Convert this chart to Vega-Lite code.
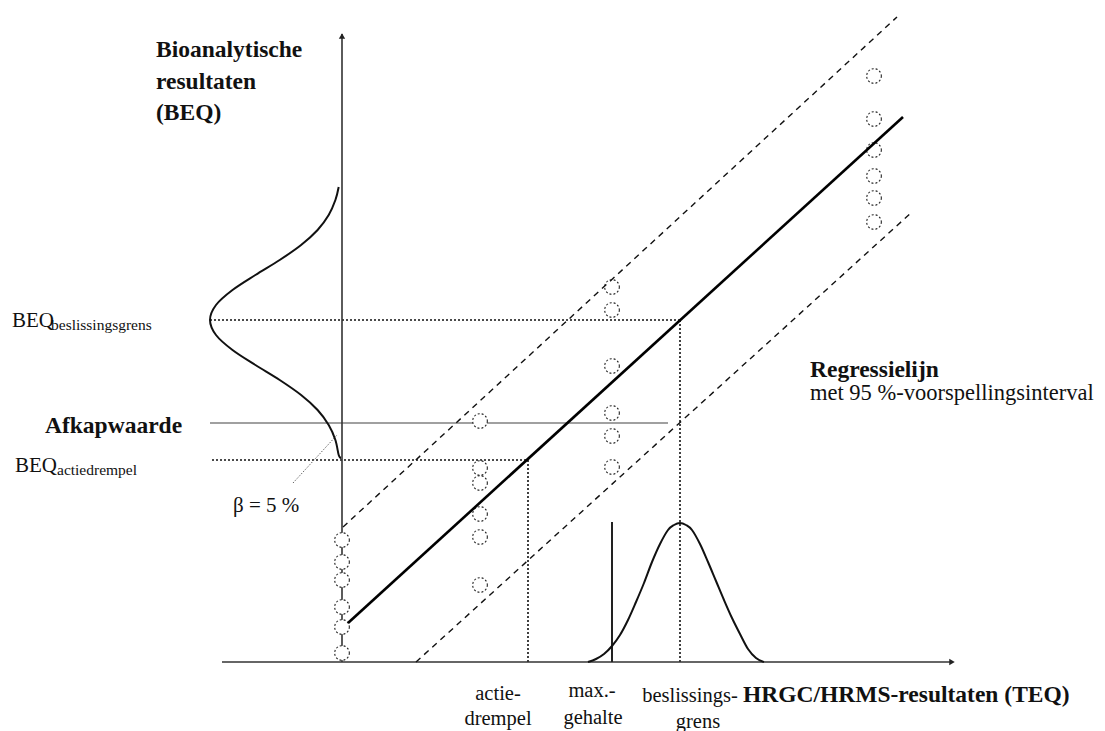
{
  "$schema": "https://vega.github.io/schema/vega-lite/v6.json",
  "width": 1105,
  "height": 731,
  "padding": 0,
  "autosize": {"type": "none"},
  "background": "white",
  "config": {"view": {"stroke": null}},
  "datasets": {
    "segments": [
      {"kind": "axis", "teq": -12, "beq": 0, "teq2": 61.1, "beq2": 0},
      {"kind": "axis", "teq": 0, "beq": 0, "teq2": 0, "beq2": 62.8},
      {"kind": "fit", "teq": 0.6, "beq": 3.9, "teq2": 56.1, "beq2": 54.5},
      {"kind": "pi", "teq": 0.1, "beq": 13.5, "teq2": 55.5, "beq2": 64.5},
      {"kind": "pi", "teq": 7.4, "beq": 0, "teq2": 57.0, "beq2": 45.0},
      {"kind": "dotted", "teq": -13.2, "beq": 34.2, "teq2": 33.8, "beq2": 34.2},
      {"kind": "dotted", "teq": -13.0, "beq": 20.2, "teq2": 18.6, "beq2": 20.2},
      {"kind": "dotted", "teq": 18.6, "beq": 20.2, "teq2": 18.6, "beq2": 0},
      {"kind": "dotted", "teq": 33.8, "beq": 34.2, "teq2": 33.8, "beq2": 0},
      {"kind": "cutoff", "teq": -13.2, "beq": 23.9, "teq2": 32.6, "beq2": 23.9},
      {"kind": "max", "teq": 27.0, "beq": 14.0, "teq2": 27.0, "beq2": 0},
      {"kind": "beta", "teq": -4.9, "beq": 17.9, "teq2": -0.5, "beq2": 22.7}
    ],
    "points": [
      {"teq": 0, "beq": 12.2}, {"teq": 0, "beq": 10.0}, {"teq": 0, "beq": 8.2},
      {"teq": 0, "beq": 5.5}, {"teq": 0, "beq": 3.5}, {"teq": 0, "beq": 0.9},
      {"teq": 13.8, "beq": 24.1}, {"teq": 13.8, "beq": 19.4}, {"teq": 13.8, "beq": 17.9},
      {"teq": 13.8, "beq": 14.8}, {"teq": 13.8, "beq": 12.5}, {"teq": 13.8, "beq": 7.7},
      {"teq": 27.0, "beq": 37.5}, {"teq": 27.0, "beq": 35.2}, {"teq": 27.0, "beq": 29.6},
      {"teq": 27.0, "beq": 24.9}, {"teq": 27.0, "beq": 22.6}, {"teq": 27.0, "beq": 19.5},
      {"teq": 53.2, "beq": 58.6}, {"teq": 53.2, "beq": 54.3}, {"teq": 53.2, "beq": 51.2},
      {"teq": 53.2, "beq": 48.6}, {"teq": 53.2, "beq": 46.4}, {"teq": 53.2, "beq": 44.0}
    ],
    "gaussLeft": [
      {"i": 1, "teq": -0.33, "beq": 47.5}, {"i": 2, "teq": -0.66, "beq": 46.2},
      {"i": 3, "teq": -1.33, "beq": 44.7}, {"i": 4, "teq": -2.44, "beq": 43.2},
      {"i": 5, "teq": -4.09, "beq": 41.7}, {"i": 6, "teq": -6.23, "beq": 40.2},
      {"i": 7, "teq": -8.66, "beq": 38.7}, {"i": 8, "teq": -10.95, "beq": 37.2},
      {"i": 9, "teq": -12.6, "beq": 35.7}, {"i": 10, "teq": -13.2, "beq": 34.2},
      {"i": 11, "teq": -12.6, "beq": 32.7}, {"i": 12, "teq": -10.95, "beq": 31.2},
      {"i": 13, "teq": -8.66, "beq": 29.7}, {"i": 14, "teq": -6.23, "beq": 28.2},
      {"i": 15, "teq": -4.09, "beq": 26.7}, {"i": 16, "teq": -2.44, "beq": 25.2},
      {"i": 17, "teq": -1.33, "beq": 23.7}, {"i": 18, "teq": -0.66, "beq": 22.2},
      {"i": 19, "teq": -0.33, "beq": 20.7}, {"i": 20, "teq": -0.1, "beq": 20.4}
    ],
    "gaussBottom": [
      {"teq": 24.6, "beq": 0}, {"teq": 25.4, "beq": 0.3}, {"teq": 26.2, "beq": 0.8},
      {"teq": 27.0, "beq": 1.6}, {"teq": 27.8, "beq": 2.7}, {"teq": 28.6, "beq": 4.2},
      {"teq": 29.4, "beq": 6.0}, {"teq": 30.2, "beq": 7.9}, {"teq": 31.0, "beq": 10.0},
      {"teq": 31.8, "beq": 11.8}, {"teq": 32.6, "beq": 13.2}, {"teq": 33.2, "beq": 13.7},
      {"teq": 33.8, "beq": 13.9}, {"teq": 34.4, "beq": 13.7}, {"teq": 35.0, "beq": 13.2},
      {"teq": 35.8, "beq": 11.8}, {"teq": 36.6, "beq": 10.0}, {"teq": 37.4, "beq": 8.1},
      {"teq": 38.2, "beq": 6.2}, {"teq": 39.0, "beq": 4.4}, {"teq": 39.8, "beq": 2.8},
      {"teq": 40.6, "beq": 1.3}, {"teq": 41.4, "beq": 0.4}, {"teq": 42.2, "beq": 0}
    ],
    "arrows": [
      {"dir": "up", "teq": 0, "beq": 62.6},
      {"dir": "right", "teq": 61.0, "beq": 0}
    ],
    "labels": [
      {"role": "bold", "text": "Bioanalytische", "teq": -18.6, "beq": 60.5},
      {"role": "bold", "text": "resultaten", "teq": -18.6, "beq": 57.3},
      {"role": "bold", "text": "(BEQ)", "teq": -18.6, "beq": 54.2},
      {"role": "bold", "text": "Afkapwaarde", "teq": -29.7, "beq": 22.9},
      {"role": "bold", "text": "Regressielijn", "teq": 46.8, "beq": 28.5},
      {"role": "bold", "text": "HRGC/HRMS-resultaten (TEQ)", "teq": 40.1, "beq": -4.0},
      {"role": "note", "text": "BEQ", "teq": -33.0, "beq": 33.5},
      {"role": "note", "text": "BEQ", "teq": -32.7, "beq": 19.0},
      {"role": "note", "text": "β = 5 %", "teq": -10.9, "beq": 15.0},
      {"role": "note2", "text": "met 95 %-voorspellingsinterval", "teq": 46.8, "beq": 26.2},
      {"role": "sub", "text": "beslissingsgrens", "teq": -29.1, "beq": 33.2},
      {"role": "sub", "text": "actiedrempel", "teq": -28.5, "beq": 18.7},
      {"role": "tick", "text": "actie-", "teq": 15.6, "beq": -3.8},
      {"role": "tick", "text": "drempel", "teq": 15.6, "beq": -6.3},
      {"role": "tick", "text": "max.-", "teq": 25.0, "beq": -3.5},
      {"role": "tick", "text": "gehalte", "teq": 25.1, "beq": -6.2},
      {"role": "tick", "text": "beslissings-", "teq": 34.8, "beq": -4.0},
      {"role": "tick", "text": "grens", "teq": 35.6, "beq": -6.6}
    ]
  },
  "encoding": {
    "x": {"field": "teq", "type": "quantitative", "axis": null,
          "scale": {"domain": [-34.2, 76.3], "nice": false, "zero": false}},
    "y": {"field": "beq", "type": "quantitative", "axis": null,
          "scale": {"domain": [-6.9, 66.2], "nice": false, "zero": false}}
  },
  "layer": [
    {
      "data": {"name": "segments"},
      "transform": [{"filter": "datum.kind === 'cutoff'"}],
      "mark": {"type": "rule", "color": "#a0a0a0", "strokeWidth": 2},
      "encoding": {"x2": {"field": "teq2"}, "y2": {"field": "beq2"}}
    },
    {
      "data": {"name": "segments"},
      "transform": [{"filter": "datum.kind === 'dotted'"}],
      "mark": {"type": "rule", "color": "#111", "strokeWidth": 1.6, "strokeDash": [2, 2]},
      "encoding": {"x2": {"field": "teq2"}, "y2": {"field": "beq2"}}
    },
    {
      "data": {"name": "segments"},
      "transform": [{"filter": "datum.kind === 'axis'"}],
      "mark": {"type": "rule", "color": "#333", "strokeWidth": 1.6},
      "encoding": {"x2": {"field": "teq2"}, "y2": {"field": "beq2"}}
    },
    {
      "data": {"name": "segments"},
      "transform": [{"filter": "datum.kind === 'max'"}],
      "mark": {"type": "rule", "color": "#222", "strokeWidth": 2},
      "encoding": {"x2": {"field": "teq2"}, "y2": {"field": "beq2"}}
    },
    {
      "data": {"name": "segments"},
      "transform": [{"filter": "datum.kind === 'beta'"}],
      "mark": {"type": "rule", "color": "#666", "strokeWidth": 1, "strokeDash": [1.5, 1.5]},
      "encoding": {"x2": {"field": "teq2"}, "y2": {"field": "beq2"}}
    },
    {
      "data": {"name": "arrows"},
      "mark": {"type": "point", "filled": true, "color": "#222", "size": 40, "opacity": 1},
      "encoding": {
        "shape": {"field": "dir", "type": "nominal", "legend": null,
                  "scale": {"domain": ["up", "right"], "range": ["triangle-up", "triangle-right"]}}
      }
    },
    {
      "data": {"name": "points"},
      "mark": {"type": "point", "shape": "circle", "size": 215, "filled": false, "fill": "white", "fillOpacity": 1,
               "stroke": "#222", "strokeWidth": 1.1, "strokeDash": [2, 2], "opacity": 1}
    },
    {
      "data": {"name": "segments"},
      "transform": [{"filter": "datum.kind === 'pi'"}],
      "mark": {"type": "rule", "color": "#111", "strokeWidth": 1.4, "strokeDash": [6, 5]},
      "encoding": {"x2": {"field": "teq2"}, "y2": {"field": "beq2"}}
    },
    {
      "data": {"name": "segments"},
      "transform": [{"filter": "datum.kind === 'fit'"}],
      "mark": {"type": "rule", "color": "#000", "strokeWidth": 2.6},
      "encoding": {"x2": {"field": "teq2"}, "y2": {"field": "beq2"}}
    },
    {
      "data": {"name": "gaussLeft"},
      "mark": {"type": "line", "color": "#111", "strokeWidth": 2, "interpolate": "cardinal"},
      "encoding": {"order": {"field": "i", "type": "quantitative"}}
    },
    {
      "data": {"name": "gaussBottom"},
      "mark": {"type": "line", "color": "#111", "strokeWidth": 2, "interpolate": "cardinal"},
      "encoding": {}
    },
    {
      "data": {"name": "labels"},
      "transform": [{"filter": "datum.role === 'bold'"}],
      "mark": {"type": "text", "font": "Liberation Serif", "fontWeight": "bold", "fontSize": 23.5,
               "align": "left", "baseline": "alphabetic", "color": "#111"},
      "encoding": {"text": {"field": "text"}}
    },
    {
      "data": {"name": "labels"},
      "transform": [{"filter": "datum.role === 'note'"}],
      "mark": {"type": "text", "font": "Liberation Serif", "fontSize": 21,
               "align": "left", "baseline": "alphabetic", "color": "#111"},
      "encoding": {"text": {"field": "text"}}
    },
    {
      "data": {"name": "labels"},
      "transform": [{"filter": "datum.role === 'note2'"}],
      "mark": {"type": "text", "font": "Liberation Serif", "fontSize": 22.5,
               "align": "left", "baseline": "alphabetic", "color": "#111"},
      "encoding": {"text": {"field": "text"}}
    },
    {
      "data": {"name": "labels"},
      "transform": [{"filter": "datum.role === 'sub'"}],
      "mark": {"type": "text", "font": "Liberation Serif", "fontSize": 15.5,
               "align": "left", "baseline": "alphabetic", "color": "#111"},
      "encoding": {"text": {"field": "text"}}
    },
    {
      "data": {"name": "labels"},
      "transform": [{"filter": "datum.role === 'tick'"}],
      "mark": {"type": "text", "font": "Liberation Serif", "fontSize": 20.5,
               "align": "center", "baseline": "alphabetic", "color": "#111"},
      "encoding": {"text": {"field": "text"}}
    }
  ]
}
